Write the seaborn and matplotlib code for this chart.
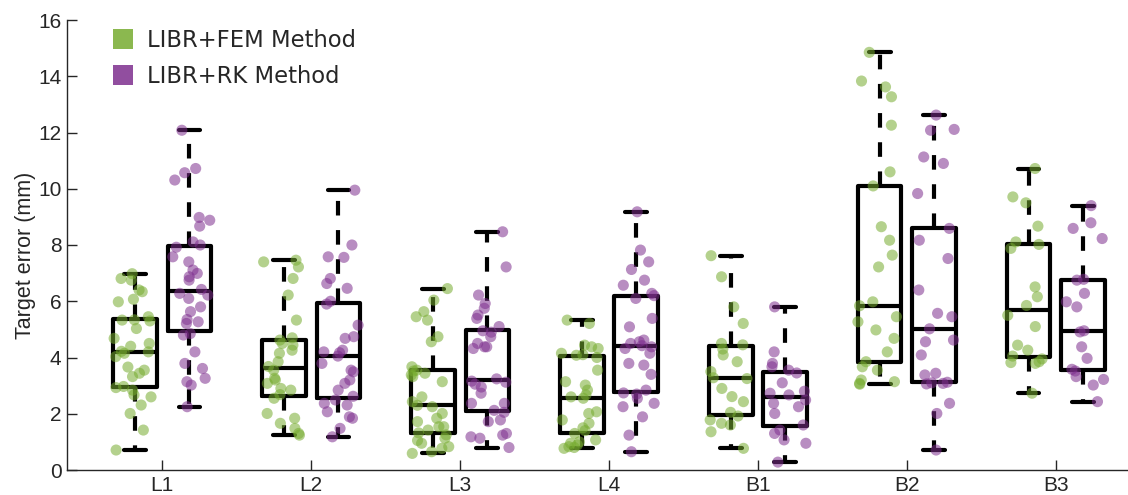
import numpy as np
import pandas as pd
import matplotlib
matplotlib.use("Agg")
import matplotlib.pyplot as plt
import seaborn as sns
from matplotlib.lines import Line2D

# target error (mm) per site
sites = ["L1", "L2", "L3", "L4", "B1", "B2", "B3"]
methods = ["LIBR+FEM Method", "LIBR+RK Method"]

fem_l1 = [0.71, 1.42, 2.01, 2.31, 2.60, 2.67, 2.84, 2.93, 2.97, 3.32, 3.44, 3.55, 3.66, 4.03, 4.15, 4.20,
          4.22, 4.40, 4.50, 4.68, 5.03, 5.30, 5.33, 5.34, 5.45, 5.98, 6.07, 6.34, 6.40, 6.75, 6.81, 6.98]
rk_l1 = [2.25, 3.02, 3.14, 3.26, 3.61, 3.79, 4.20, 4.80, 4.85, 5.21, 5.27, 5.35, 5.63, 5.80, 6.10, 6.22, 6.28,
         6.42, 6.75, 6.87, 6.99, 7.11, 7.40, 7.58, 7.92, 8.00, 8.11, 8.67, 8.88, 8.98, 10.31, 10.57, 10.72, 12.08]
fem_l2 = [1.24, 1.30, 1.48, 1.66, 1.84, 2.01, 2.55, 2.68, 2.84, 2.90, 3.08, 3.20, 3.26, 3.55, 3.68, 3.85,
          4.15, 4.26, 4.44, 4.50, 4.62, 4.70, 5.33, 6.22, 6.81, 7.22, 7.40, 7.46]
rk_l2 = [1.18, 1.48, 1.84, 1.89, 2.07, 2.31, 2.37, 2.49, 2.62, 2.84, 3.08, 3.20, 3.49, 3.55, 3.79, 4.05,
         4.17, 4.20, 4.26, 4.68, 4.74, 5.15, 5.90, 6.00, 6.46, 6.63, 6.81, 7.56, 7.58, 8.00, 9.95]
fem_l3 = [0.59, 0.65, 0.77, 0.83, 0.95, 1.05, 1.13, 1.25, 1.32, 1.42, 1.54, 1.54, 1.72, 1.84, 2.01, 2.25,
          2.30, 2.43, 2.60, 3.14, 3.32, 3.38, 3.44, 3.52, 3.55, 3.67, 4.56, 4.74, 5.33, 5.45, 5.63, 6.04, 6.45]
rk_l3 = [0.80, 1.13, 1.18, 1.24, 1.30, 1.72, 1.78, 2.05, 2.12, 2.37, 2.37, 2.73, 2.95, 3.05, 3.12, 3.16,
         3.24, 4.32, 4.38, 4.38, 4.50, 4.74, 4.90, 4.95, 5.10, 5.39, 5.51, 5.75, 5.92, 6.22, 7.22, 8.47]
fem_l4 = [0.77, 0.80, 0.83, 0.89, 0.95, 1.00, 1.07, 1.30, 1.40, 1.50, 1.66, 1.78, 2.01, 2.07, 2.55, 2.60,
          2.67, 2.84, 3.02, 3.14, 3.55, 4.00, 4.08, 4.10, 4.15, 4.32, 4.38, 4.44, 5.21, 5.33]
rk_l4 = [0.65, 1.24, 1.89, 2.25, 2.37, 2.55, 2.70, 2.74, 2.84, 3.40, 3.73, 3.79, 4.15, 4.32, 4.38, 4.42,
         4.50, 4.56, 4.62, 5.09, 5.39, 6.10, 6.20, 6.28, 6.57, 6.75, 7.13, 7.40, 7.82, 9.18]
fem_b1 = [0.77, 1.36, 1.60, 1.66, 1.78, 1.92, 2.05, 2.43, 2.61, 2.90, 3.25, 3.28, 3.50, 3.85, 4.09, 4.30,
          4.45, 4.50, 5.21, 5.80, 6.87, 7.62]
rk_b1 = [0.28, 0.95, 1.07, 1.30, 1.42, 1.60, 2.01, 2.25, 2.37, 2.49, 2.67, 2.73, 2.80, 3.10, 3.45, 3.55,
         3.67, 3.79, 4.20, 5.80]
fem_b2 = [3.05, 3.08, 3.14, 3.20, 3.55, 3.67, 3.85, 4.20, 4.68, 4.98, 5.27, 5.45, 5.84, 5.98, 7.22, 7.64,
          8.17, 8.65, 10.10, 10.60, 12.26, 13.27, 13.62, 13.83, 14.85]
rk_b2 = [0.71, 2.01, 2.37, 3.06, 3.08, 3.10, 3.12, 3.38, 3.44, 4.09, 4.56, 4.62, 5.02, 5.45, 5.57, 6.40,
         7.52, 8.17, 8.59, 9.83, 10.90, 11.13, 12.08, 12.11, 12.62]
fem_b3 = [2.73, 3.79, 3.82, 3.85, 3.95, 4.05, 4.26, 4.44, 5.10, 5.50, 5.85, 6.16, 6.51, 7.88, 8.02, 8.11,
          8.67, 9.50, 9.71, 10.72]
rk_b3 = [2.43, 3.02, 3.22, 3.32, 3.52, 3.58, 3.97, 4.38, 4.91, 4.95, 5.80, 5.98, 6.28, 6.75, 6.78, 8.23,
         8.59, 8.79, 9.40]

fem = [fem_l1, fem_l2, fem_l3, fem_l4, fem_b1, fem_b2, fem_b3]
rk = [rk_l1, rk_l2, rk_l3, rk_l4, rk_b1, rk_b2, rk_b3]

green = "#77AC30"
purple = "#7E2F8E"

rows = []
for site, a, b in zip(sites, fem, rk):
    rows += [(site, methods[0], v) for v in a]
    rows += [(site, methods[1], v) for v in b]
df = pd.DataFrame(rows, columns=["site", "method", "error"])

sns.set_theme(style="ticks")
plt.rcParams["font.family"] = ["Liberation Sans", "DejaVu Sans"]

fig = plt.figure(figsize=(11.28, 4.95), dpi=100)
ax = fig.add_axes([67 / 1128, 25 / 495, 1 - 67 / 1128, 450 / 495])

np.random.seed(7)
sns.stripplot(data=df, x="site", y="error", hue="method", order=sites, hue_order=methods,
              palette=[green, purple], dodge=True, jitter=0.26, size=8, alpha=0.55,
              linewidth=0, legend=False, ax=ax)
sns.boxplot(data=df, x="site", y="error", hue="method", order=sites, hue_order=methods,
            palette=["black", "black"], fill=False, width=0.73, gap=0.2, linewidth=3,
            showfliers=False, whiskerprops=dict(linestyle=(0, (3.5, 3.5))),
            legend=False, ax=ax)

ax.set_xlim(-0.64, 6.485)
ax.set_ylim(0, 16)
ax.set_yticks(range(0, 17, 2))
ax.set_xlabel("")
ax.set_ylabel("Target error (mm)", fontsize=15.5, color="#262626")
ax.yaxis.set_label_coords(-0.029, 0.476)
ax.tick_params(direction="in", length=7, width=1, colors="#262626", labelsize=15, pad=4)
for s in ["top", "right"]:
    ax.spines[s].set_visible(False)
for s in ["left", "bottom"]:
    ax.spines[s].set_color("#262626")
    ax.spines[s].set_linewidth(1)

handles = [Line2D([], [], marker="s", linestyle="none", markersize=15, markeredgewidth=0,
                  markerfacecolor=c, alpha=0.85) for c in [green, purple]]
ax.legend(handles, methods, loc="upper left", bbox_to_anchor=(112 / 1128, 1 - 29 / 495),
          bbox_transform=fig.transFigure, frameon=False, borderaxespad=0, borderpad=0,
          handlelength=0.95, handletextpad=0.6, labelspacing=0.56,
          prop={"family": "DejaVu Sans", "size": 16.3})

fig.savefig("out.png", dpi=100)
